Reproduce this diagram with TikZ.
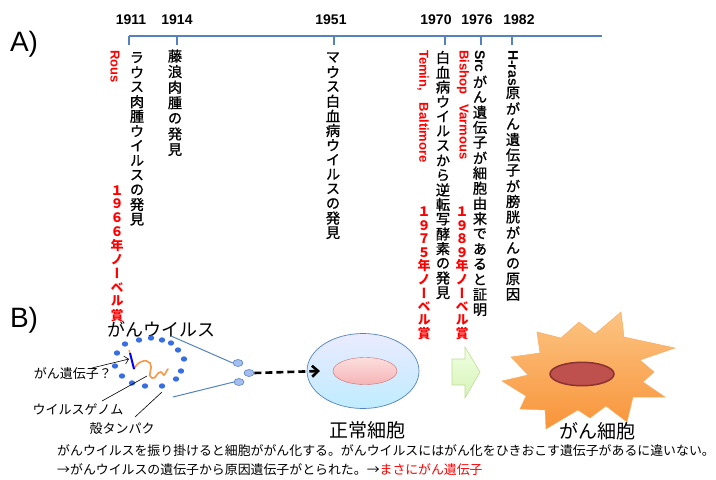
\documentclass[tikz,border=0pt]{standalone}
\usepackage{fontspec}
\usetikzlibrary{arrows.meta,shapes.geometric}
\setmainfont{Noto Sans CJK JP}
\newfontfamily\latin{Liberation Sans}
\newfontfamily\tatefont[RawFeature=+vert, UprightFeatures={FakeBold=0.9}]{Noto Sans CJK JP}
\definecolor{tlblue}{RGB}{84,130,190}
\definecolor{aka}{RGB}{255,0,0}
\definecolor{tama}{RGB}{55,110,225}
\definecolor{genome}{RGB}{247,150,70}

% vertical writing: one box per character
\makeatletter
\newlength\tatepitch
\newcommand\tatebun[2][14.7pt]{%
  \setlength\tatepitch{#1}%
  \vbox{\offinterlineskip\tatefont
    \@tfor\tate@c:=#2\do{%
      \vbox to\tatepitch{\vss\hbox to\tatepitch{\hss\tate@c\hss}\vss}}}}
\makeatother

\tikzset{
  tline/.style={line width=2pt, draw=tlblue},
  year/.style={font=\latin\bfseries\fontsize{14}{16}\selectfont},
  tate/.style={anchor=north, inner sep=0pt, font=\fontsize{14.3}{14}\selectfont},
  tateaka/.style={anchor=north, inner sep=0pt, text=aka, font=\bfseries\fontsize{13}{13}\selectfont},
  person/.style={rotate=-90, anchor=west, inner sep=0pt, text=aka, font=\latin\bfseries\fontsize{13}{13}\selectfont},
  latinv/.style={rotate=-90, anchor=west, inner sep=0pt, font=\latin\bfseries\fontsize{14}{14}\selectfont},
  part/.style={font=\fontsize{19}{19}\selectfont},
  note/.style={font=\fontsize{13}{13}\selectfont},
  dot/.style={fill=tama},
  particle/.style={ellipse, minimum width=10pt, minimum height=7pt, inner sep=0pt,
                   fill=tama!45, draw=tlblue, line width=0.6pt},
}

\begin{document}
\begin{tikzpicture}[x=1pt, y=-1pt, >=Stealth]
\useasboundingbox (0,0) rectangle (716,480);

%% A) time line
\node[font=\latin\fontsize{28}{28}\selectfont] (labA) at (24,44) {A)};
\draw[tline] (129,36) -- (602,36);
\foreach \tx/\lx/\yr in {129/131/1911, 177/177/1914, 334/331/1951,
                         445/436/1970, 481/477/1976, 512/519/1982}
  {\draw[tline] (\tx,36) -- (\tx,45);
   \node[year] (y\yr) at (\lx,20) {\yr};}

% events
\node[person] (rous) at (115,50) {Rous};
\node[tate] (e1911) at (137,50) {\tatebun{ラウス肉腫ウイルスの発見}};
\node[tateaka] (n1966) at (117,183) {\tatebun[13.9pt]{１９６６年ノーベル賞}};
\node[tate] (e1914) at (175,48) {\tatebun[15.6pt]{藤浪肉腫の発見}};
\node[tate] (e1951) at (333,50) {\tatebun[14.6pt]{マウス白血病ウイルスの発見}};
\node[person] (temin) at (423,50) {Temin,\hspace{0.9em}Baltimore};
\node[tate] (e1970) at (443,50) {\tatebun{白血病ウイルスから逆転写酵素の発見}};
\node[tateaka] (n1975) at (424,205) {\tatebun[13.5pt]{１９７５年ノーベル賞}};
\node[person] (bishop) at (463,50) {Bishop\hspace{0.8em}Varmous};
\node[tateaka] (n1989) at (462,205) {\tatebun[13.5pt]{１９８９年ノーベル賞}};
\node[latinv] (src) at (480,50) {Src};
\node[tate] (e1976) at (480,74) {\tatebun[15.2pt]{がん遺伝子が細胞由来であると証明}};
\node[latinv] (hras) at (513,50) {H-ras};
\node[tate] (e1982) at (513,85) {\tatebun[15.5pt]{原がん遺伝子が膀胱がんの原因}};

%% B) virus and cells
\node[font=\latin\fontsize{28}{28}\selectfont] (labB) at (24,320) {B)};
\node[font=\fontsize{18}{18}\selectfont] (virus) at (161,329) {がんウイルス};

% capsid dots
\foreach \p in {(125,344),(139,340),(151,338),(162,340),(171,343),
                (178,350),(184,359),(181,371),(176,379),(162,386),
                (145,386),(132,383),(122,376),(115,366),(117,353)}
  {\fill[dot] \p ellipse (3.2 and 2.7);}
% genome with the oncogene
\draw[genome, line width=1.6pt, line cap=round]
  (134,369) .. controls (137,362) and (146,358) .. (150,363)
  .. controls (154,368) and (146,376) .. (152,378)
  .. controls (156,380) and (157,371) .. (161,372)
  .. controls (164,373) and (163,377) .. (165,374)
  .. controls (166,372) and (167,370) .. (168,369);
\draw[genome, line width=1.2pt] (129,350) -- (130,353);
\draw[blue, line width=2pt] (130,353) -- (134,369);
\coordinate (gene) at (129,359);
\coordinate (geno) at (147,376);
\coordinate (caps) at (162,392);
\coordinate (vtop) at (171,336);
\coordinate (vbot) at (173,397);

% released particles
\node[particle] (pa) at (238,363) {};
\node[particle] (pb) at (249,373) {};
\node[particle] (pc) at (239,382) {};
\draw[tlblue, line width=1pt] (vtop) -- (pa.west);
\draw[tlblue, line width=1pt] (vbot) -- (pc.west);

% labels of the parts
\node[note] (lgene) at (73,374) {がん遺伝子？};
\node[note] (lgeno) at (78,409) {ウイルスゲノム};
\node[note] (lcaps) at (122,429) {殻タンパク};
\draw[-{Straight Barb[length=4pt]}, line width=0.6pt] (92,368) -- (gene);
\draw[line width=0.6pt] (102,401) -- (geno);
\draw[line width=0.6pt] (135,417) -- (caps);

% normal cell
\draw[draw=tlblue, top color=blue!8, bottom color=blue!30!cyan!25, line width=0.7pt]
  (363,371) ellipse (56 and 37.5);
\node[ellipse, minimum width=64pt, minimum height=27pt, draw={rgb,255:red,205;green,110;blue,110},
      top color={rgb,255:red,252;green,222;blue,222}, bottom color={rgb,255:red,246;green,180;blue,182}] (cell) at (365,371) {};
\draw[-{Straight Barb[length=6pt,width=11pt]}, line width=2.6pt, dash pattern=on 7pt off 4pt]
  (pb.east) -- (320,371);
\node[part] (lcell) at (367,430) {正常細胞};

% green step arrow
\draw[draw={rgb,255:red,190;green,220;blue,150}, line width=0.6pt,
      top color={rgb,255:red,240;green,255;blue,228}, bottom color={rgb,255:red,214;green,244;blue,180}]
  (452,359) -- (465,359) -- (465,347) -- (480,372) -- (465,398) -- (465,385) -- (452,385) -- cycle;

% cancer cell
\draw[draw={rgb,255:red,248;green,175;blue,100}, line width=0.5pt,
      top color={rgb,255:red,252;green,196;blue,130}, bottom color={rgb,255:red,248;green,148;blue,58}]
  (502,381) -- (528,375) -- (511,357) -- (540,353) -- (537,332) -- (561,338)
  -- (579,322) -- (595,334) -- (621,312) -- (624,337) -- (675,348) -- (640,360)
  -- (654,372) -- (643,382) -- (665,397) -- (633,397) -- (627,422) -- (606,406)
  -- (590,418) -- (578,410) -- (546,429) -- (545,410) -- (520,409) -- (526,396) -- cycle;
\draw[draw={rgb,255:red,140;green,50;blue,48}, line width=1.5pt, fill={rgb,255:red,190;green,80;blue,77}]
  (582,374) ellipse (32 and 11.7);
\node[part] (lcancer) at (597,431) {がん細胞};

% summary
\node[note, anchor=west, inner sep=0pt, font=\fontsize{12.9}{13}\selectfont] (s1) at (57,451)
  {がんウイルスを振り掛けると細胞ががん化する。がんウイルスにはがん化をひきおこす遺伝子があるに違いない。};
\node[note, anchor=west, inner sep=0pt, font=\fontsize{12.9}{13}\selectfont] (s2) at (57,470)
  {→がんウイルスの遺伝子から原因遺伝子がとられた。→\textcolor{aka}{まさにがん遺伝子}};
\end{tikzpicture}
\end{document}
